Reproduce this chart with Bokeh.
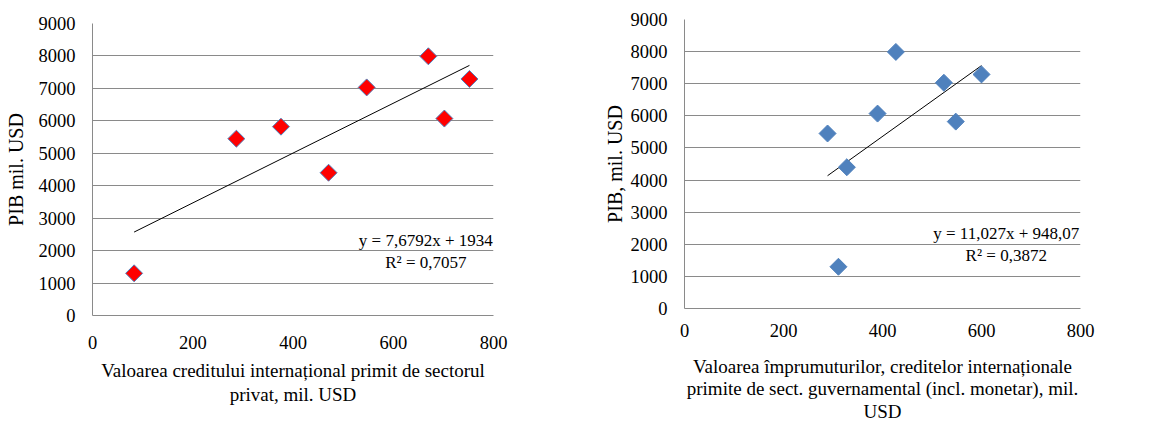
import numpy as np
from bokeh.plotting import figure
from bokeh.models import Range1d, FixedTicker, Label
from bokeh.layouts import row, column
from bokeh.embed import file_html
from bokeh.resources import INLINE

# ---- data ----
gdp = [1300, 5450, 5820, 4400, 7030, 7990, 6070, 7290]
credit_private = [83, 287, 376, 471, 547, 670, 702, 752]
credit_gov = [311, 289, 548, 328, 524, 427, 390, 600]

eq_left = "y = 7,6792x + 1934"
r2_left = "R² = 0,7057"
slope_left, intercept_left = 7.6792, 1934
eq_right = "y = 11,027x + 948,07"
r2_right = "R² = 0,3872"
slope_right, intercept_right = 11.027, 948.07

x_ticks = [0, 200, 400, 600, 800]
y_ticks = [0, 1000, 2000, 3000, 4000, 5000, 6000, 7000, 8000, 9000]

xtitle_left = "Valoarea creditului internațional primit de sectorul\nprivat, mil. USD"
ytitle_left = "PIB mil. USD"
xtitle_right = "Valoarea împrumuturilor, creditelor internaționale\nprimite de sect. guvernamental (incl. monetar), mil.\nUSD"
ytitle_right = "PIB, mil. USD"

FONT = "Liberation Serif"
GRID = "#8A8A8A"


def make_fig(width, bl, br, bt, bb, xtitle, ytitle, ystand, xtick_so, xlab_so, lh):
    p = figure(width=width, height=425, output_backend="svg", toolbar_location=None,
               x_range=Range1d(0, 800), y_range=Range1d(0, 9000),
               min_border_left=bl, min_border_right=br, min_border_top=bt, min_border_bottom=bb)
    p.outline_line_color = None
    p.background_fill_color = "white"
    p.border_fill_color = "white"
    p.xgrid.grid_line_color = None
    p.ygrid.grid_line_color = GRID
    p.ygrid.grid_line_width = 1
    p.xaxis.ticker = FixedTicker(ticks=x_ticks)
    p.yaxis.ticker = FixedTicker(ticks=y_ticks)
    for ax in (p.xaxis[0], p.yaxis[0]):
        ax.axis_line_color = GRID
        ax.major_tick_line_color = None
        ax.minor_tick_line_color = None
        ax.major_tick_out = 0
        ax.major_tick_in = 0
        ax.major_label_text_font = FONT
        ax.major_label_text_font_size = "18.5px"
        ax.major_label_text_color = "black"
        ax.axis_label_text_font = FONT
        ax.axis_label_text_font_style = "normal"
        ax.axis_label_text_color = "black"
    p.xaxis.major_label_standoff = xtick_so
    p.yaxis.major_label_standoff = 17
    p.xaxis.axis_label = xtitle
    p.xaxis.axis_label_text_font_size = "19px"
    p.xaxis.axis_label_text_line_height = lh
    p.xaxis.axis_label_standoff = xlab_so
    p.yaxis.axis_label = ytitle
    p.yaxis.axis_label_text_font_size = "20px"
    p.yaxis.axis_label_standoff = ystand
    return p


def eq_labels(p, x, y1, y2, t1, t2):
    for yy, tt in ((y1, t1), (y2, t2)):
        p.add_layout(Label(x=x, y=yy, text=tt, text_align="center", text_baseline="middle",
                           text_font=FONT, text_font_size="17px", text_color="black"))


# ---- left chart ----
p1 = make_fig(575, 92, 82, 23, 110, xtitle_left, ytitle_left, 9, 20, 8, 1.15)
xl = np.array([min(credit_private), max(credit_private)], dtype=float)
p1.line(xl, slope_left * xl + intercept_left, line_color="black", line_width=1)
p1.scatter(credit_private, gdp, marker="square", angle=np.pi / 4, size=12,
           fill_color="#FF0000", line_color="#4F81BD", line_width=1)
eq_labels(p1, 665, 2321, 1643, eq_left, r2_left)

# ---- right chart ----
p2 = make_fig(580, 109, 75, 19, 115, xtitle_right, ytitle_right, 2, 15, 16, 1.09)
xr = np.array([min(credit_gov), max(credit_gov)], dtype=float)
p2.line(xr, slope_right * xr + intercept_right, line_color="black", line_width=1)
p2.scatter(credit_gov, gdp, marker="square", angle=np.pi / 4, size=12,
           fill_color="#4F81BD", line_color="#4F81BD", line_width=1)
eq_labels(p2, 650, 2322, 1650, eq_right, r2_right)

layout = row(column(p1), column(p2))
open("out.html", "w").write(file_html(layout, INLINE))
